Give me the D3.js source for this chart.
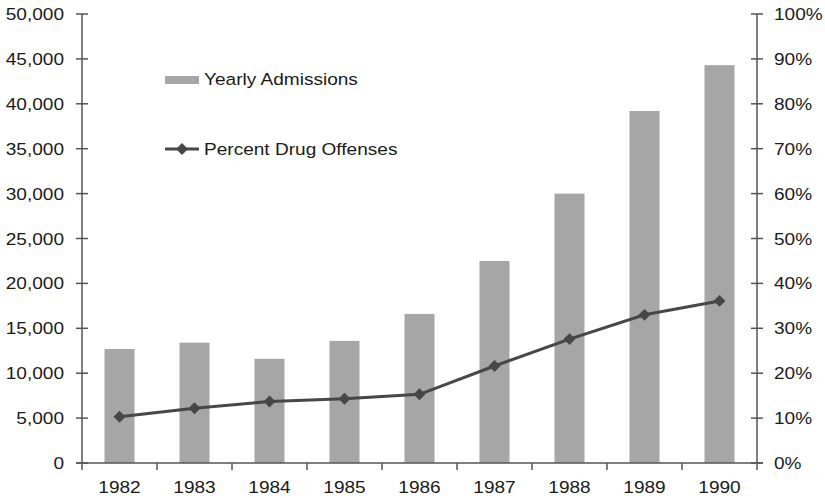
<!DOCTYPE html>
<html><head><meta charset="utf-8">
<script src="https://cdn.jsdelivr.net/npm/d3@7"></script>
<style>body{margin:0;background:#fff;}svg{display:block;}</style>
</head><body>
<script>
const years = ["1982","1983","1984","1985","1986","1987","1988","1989","1990"];
const admissions = [12700, 13400, 11600, 13600, 16600, 22500, 30000, 39200, 44300];
const pctDrug = [10.3, 12.2, 13.7, 14.3, 15.3, 21.6, 27.6, 33.0, 36.1];
const leftTicks = [0,5000,10000,15000,20000,25000,30000,35000,40000,45000,50000];
const rightTicks = [0,10,20,30,40,50,60,70,80,90,100];
const legendLabels = ["Yearly Admissions","Percent Drug Offenses"];

const W = 825, H = 498;
const m = {left: 82, right: 757, top: 14, bottom: 463};
const sx = 1.17;
const font = "'Liberation Sans', Arial, sans-serif";
const txtColor = "#1a1a1a";
const axisColor = "#555";

const svg = d3.select("body").append("svg").attr("width", W).attr("height", H);

const x = d3.scaleBand().domain(years).range([m.left, m.right]).paddingInner(0.6).paddingOuter(0.3);
const xb = d3.scaleBand().domain(years).range([m.left, m.right]);
const yL = d3.scaleLinear().domain([0, 50000]).range([m.bottom, m.top]);
const yR = d3.scaleLinear().domain([0, 100]).range([m.bottom, m.top]);

function stretchedText(g, tx, ty, str, anchor) {
  g.append("text").attr("transform", `translate(${tx},${ty}) scale(${sx},1)`)
    .attr("text-anchor", anchor).attr("font-family", font).attr("font-size", 16.3)
    .attr("fill", txtColor).text(str);
}

// bars
svg.append("g").selectAll("rect").data(years).join("rect")
  .attr("x", d => x(d)).attr("width", x.bandwidth())
  .attr("y", (d,i) => yL(admissions[i]))
  .attr("height", (d,i) => yL(0) - yL(admissions[i]))
  .attr("fill", "#a6a6a6");

// axes
const ax = svg.append("g").attr("stroke", axisColor).attr("stroke-width", 1.5);
ax.append("line").attr("x1", m.left).attr("x2", m.left).attr("y1", m.top).attr("y2", m.bottom);
ax.append("line").attr("x1", m.right).attr("x2", m.right).attr("y1", m.top).attr("y2", m.bottom);
ax.append("line").attr("x1", m.left-6).attr("x2", m.right+6).attr("y1", m.bottom).attr("y2", m.bottom);
leftTicks.forEach(t => ax.append("line").attr("x1", m.left-6).attr("x2", m.left+6).attr("y1", yL(t)).attr("y2", yL(t)));
rightTicks.forEach(t => ax.append("line").attr("x1", m.right-6).attr("x2", m.right+6).attr("y1", yR(t)).attr("y2", yR(t)));
const bTicks = years.map(d => xb(d)).concat([m.right]);
bTicks.forEach(v => ax.append("line").attr("x1", v).attr("x2", v).attr("y1", m.bottom).attr("y2", m.bottom+7));

// tick labels
const lab = svg.append("g");
const fmt = d3.format(",");
leftTicks.forEach(t => stretchedText(lab, 64, yL(t)+6, fmt(t), "end"));
rightTicks.forEach(t => stretchedText(lab, 774, yR(t)+6, t + "%", "start"));
years.forEach(d => stretchedText(lab, xb(d) + xb.bandwidth()/2, 493, d, "middle"));

// line
const diamond = d3.symbol().type(d3.symbolDiamond2 || d3.symbolDiamond).size(90);
const line = d3.line().x((d,i) => xb(years[i]) + xb.bandwidth()/2).y(d => yR(d));
svg.append("path").datum(pctDrug).attr("d", line).attr("fill", "none")
  .attr("stroke", "#474747").attr("stroke-width", 3);
svg.append("g").selectAll("path").data(pctDrug).join("path")
  .attr("transform", (d,i) => `translate(${xb(years[i]) + xb.bandwidth()/2},${yR(d)})`)
  .attr("d", diamond).attr("fill", "#474747");

// legend
const lg = svg.append("g");
lg.append("rect").attr("x", 165).attr("y", 76).attr("width", 34).attr("height", 8).attr("fill", "#a6a6a6");
stretchedText(lg, 204, 85, legendLabels[0], "start");
lg.append("line").attr("x1", 165).attr("x2", 199).attr("y1", 149).attr("y2", 149)
  .attr("stroke", "#474747").attr("stroke-width", 3);
lg.append("path").attr("transform", "translate(182,149)").attr("d", diamond).attr("fill", "#474747");
stretchedText(lg, 204, 155, legendLabels[1], "start");
</script>
</body></html>
